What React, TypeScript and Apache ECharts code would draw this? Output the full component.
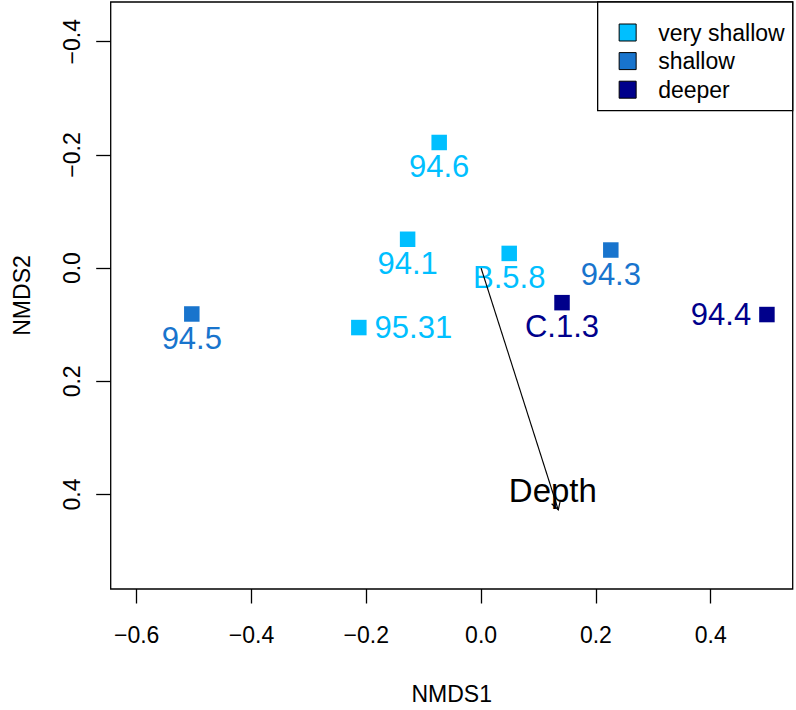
import React, { useEffect, useRef } from 'react';
import * as echarts from 'echarts';

const FONT = '"Liberation Sans", Arial, Helvetica, sans-serif';

const groups = ['very shallow', 'shallow', 'deeper'];
const groupColors = ['#00BFFF', '#1874CD', '#00008B'];

const sites = ['94.6', '94.1', 'B.5.8', '95.31', '94.3', '94.5', 'C.1.3', '94.4'];
const nmds1 = [-0.073, -0.128, 0.049, -0.213, 0.226, -0.504, 0.141, 0.498];
const nmds2 = [-0.222, -0.051, -0.026, 0.105, -0.032, 0.081, 0.061, 0.082];
const siteGroup = [0, 0, 0, 0, 1, 1, 2, 2];

const xTicks = [-0.6, -0.4, -0.2, 0, 0.2, 0.4];
const yTicks = [-0.4, -0.2, 0, 0.2, 0.4];

const envName = 'Depth';
const envArrow = [0.1345, 0.427];
const envLabelAt = [0.125, 0.392];

const fmt = (v: number) => (Math.abs(v) < 1e-9 ? '0.0' : v.toFixed(1)).replace('-', '\u2212');

export default function App() {
  const ref = useRef<HTMLDivElement>(null);
  useEffect(() => {
    if (!ref.current) return;
    const chart = echarts.init(ref.current, undefined, { renderer: 'svg' });
    const sideOf = (name: string) => (name === '95.31' ? 'right' : name === '94.4' ? 'left' : 'bottom');

    const scatterSeries = groups.map((g, gi) => ({
      type: 'scatter',
      name: g,
      symbol: 'rect',
      symbolSize: 15.5,
      itemStyle: { color: groupColors[gi], opacity: 1 },
      z: 3,
      data: sites
        .map((s, i) => ({ s, i }))
        .filter(({ i }) => siteGroup[i] === gi)
        .map(({ s, i }) => {
          const side = sideOf(s);
          return {
            name: s,
            value: [nmds1[i], nmds2[i]],
            label: {
              position: side,
              distance: side === 'bottom' ? 1 : 8,
            },
          };
        }),
      label: {
        show: true,
        formatter: (p: any) => p.name,
        color: groupColors[gi],
        fontSize: 31,
        fontFamily: FONT,
      },
    }));

    const arrowSeries = {
      type: 'custom',
      name: envName,
      silent: true,
      z: 5,
      data: [[0, 0, envArrow[0], envArrow[1], envLabelAt[0], envLabelAt[1]]],
      renderItem: (params: any, api: any) => {
        const p0 = api.coord([api.value(0), api.value(1)]);
        const p1 = api.coord([api.value(2), api.value(3)]);
        const pl = api.coord([api.value(4), api.value(5)]);
        const ang = Math.atan2(p1[1] - p0[1], p1[0] - p0[0]);
        const L = 9;
        const a = Math.PI / 6;
        const w1 = [p1[0] - L * Math.cos(ang - a), p1[1] - L * Math.sin(ang - a)];
        const w2 = [p1[0] - L * Math.cos(ang + a), p1[1] - L * Math.sin(ang + a)];
        return {
          type: 'group',
          children: [
            {
              type: 'line',
              shape: { x1: p0[0], y1: p0[1], x2: p1[0], y2: p1[1] },
              style: { stroke: '#000', lineWidth: 1.2 },
            },
            {
              type: 'polyline',
              shape: { points: [w1, p1, w2] },
              style: { stroke: '#000', lineWidth: 1.2, fill: 'none' },
            },
            {
              type: 'text',
              x: pl[0],
              y: pl[1],
              style: {
                text: envName,
                fill: '#000',
                fontSize: 33,
                fontFamily: FONT,
                align: 'center',
                verticalAlign: 'middle',
              },
            },
          ],
        };
      },
    };

    const axisCommon = {
      type: 'value',
      splitLine: { show: false },
      axisLine: { show: false, onZero: false },
      nameLocation: 'middle',
      nameTextStyle: { fontSize: 23, color: '#000', fontFamily: FONT },
    };

    chart.setOption({
      animation: false,
      backgroundColor: '#fff',
      grid: {
        left: 110.7,
        top: 2,
        width: 682,
        height: 595.5,
        show: true,
        borderColor: '#000',
        borderWidth: 1.3,
        backgroundColor: 'transparent',
      },
      legend: {
        orient: 'vertical',
        right: 3.3,
        top: 2,
        data: groups,
        icon: 'rect',
        itemWidth: 17,
        itemHeight: 17,
        itemGap: 4.6,
        itemStyle: { borderColor: '#000', borderWidth: 1, opacity: 1 },
        textStyle: { fontSize: 23, color: '#000', fontFamily: FONT, padding: [0, 0, 0, 17], lineHeight: 24 },
        backgroundColor: '#fff',
        borderColor: '#000',
        borderWidth: 1.3,
        borderRadius: 0,
        padding: [18.5, 8, 9, 21],
        selectedMode: false,
        z: 10,
      },
      xAxis: {
        ...axisCommon,
        name: 'NMDS1',
        nameGap: 93,
        min: -0.6453,
        max: 0.5429,
        axisTick: { show: true, inside: false, length: 14.5, customValues: xTicks, lineStyle: { color: '#000', width: 1.3 } },
        axisLabel: { customValues: xTicks, formatter: fmt, fontSize: 23, color: '#000', fontFamily: FONT, margin: 34 },
      },
      yAxis: {
        ...axisCommon,
        name: 'NMDS2',
        nameGap: 77,
        nameRotate: 90,
        inverse: true,
        min: -0.4702,
        max: 0.5669,
        axisTick: { show: true, inside: false, length: 14.5, customValues: yTicks, lineStyle: { color: '#000', width: 1.3 } },
        axisLabel: { customValues: yTicks, formatter: fmt, rotate: 90, fontSize: 23, color: '#000', fontFamily: FONT, margin: 27 },
      },
      series: [...scatterSeries, arrowSeries],
    });
    return () => chart.dispose();
  }, []);
  return <div ref={ref} style={{ position: 'fixed', left: 0, top: 0, width: 796, height: 710 }} />;
}
